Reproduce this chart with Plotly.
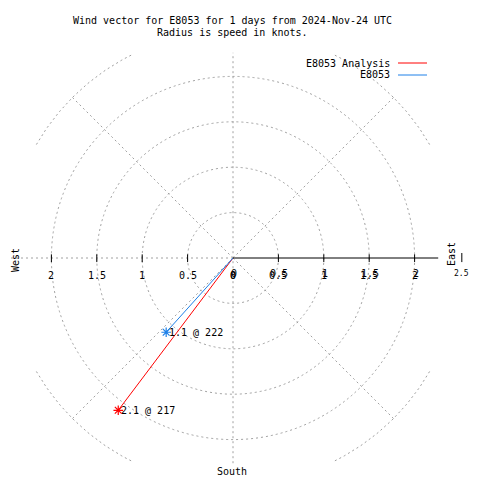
import numpy as np
import plotly.graph_objects as go

# ---- data ----
title_lines = ["Wind vector for E8053 for 1 days from 2024-Nov-24 UTC",
               "Radius is speed in knots."]
series_names = ["E8053 Analysis", "E8053"]
speeds = [2.1, 1.1]          # knots
directions = [217, 222]      # degrees (compass)
series_colors = ["#ff0000", "#1e80e8"]
rtick_vals = [0, 0.5, 1, 1.5, 2]
rtick_labels = ["0", "0.5", "1", "1.5", "2"]
grid_radii = [0.5, 1, 1.5, 2]
outer_radius = 2.5
spoke_angles = [45, 135, 225, 315]
axis_len = 2.26

# ---- geometry (pixel calibration) ----
OFF = 8            # page body margin of the browser
PX = 90.8          # pixels per knot
CX, CY = 233 - OFF, 258 - OFF  # centre in figure pixels
W = H = 480 - OFF
xr = [-CX / PX, (W - CX) / PX]
yr = [-(H - CY) / PX, CY / PX]

GRID = "#a0a0a0"
DASH = "2px,3px"
FONT = "DejaVu Sans Mono"


def px(x, y):
    """page pixel -> paper fraction"""
    return (x - OFF) / W, 1 - (y - OFF) / H


fig = go.Figure()
shapes = []
annots = []

# grid circles
for r in grid_radii:
    shapes.append(dict(type="circle", xref="x", yref="y", x0=-r, y0=-r, x1=r, y1=r,
                       line=dict(color=GRID, width=1, dash=DASH), layer="below"))
# outer partial arcs
for q in [(1, 1), (-1, 1), (-1, -1), (1, -1)]:
    t = np.radians(np.linspace(30, 64, 40))
    fig.add_trace(go.Scatter(x=q[0] * outer_radius * np.cos(t), y=q[1] * outer_radius * np.sin(t),
                             mode="lines", line=dict(color=GRID, width=1, dash=DASH),
                             hoverinfo="skip", showlegend=False))
# spokes
for a in spoke_angles:
    th = np.radians(a)
    shapes.append(dict(type="line", xref="x", yref="y", x0=0, y0=0,
                       x1=outer_radius * np.sin(th), y1=outer_radius * np.cos(th),
                       line=dict(color=GRID, width=1, dash=DASH), layer="below"))
# horizontal (west) and vertical grid lines
shapes.append(dict(type="line", xref="x", yref="y", x0=-outer_radius, y0=0, x1=0, y1=0,
                   line=dict(color=GRID, width=1, dash=DASH), layer="below"))
shapes.append(dict(type="line", xref="x", yref="y", x0=0, y0=-axis_len, x1=0, y1=axis_len,
                   line=dict(color=GRID, width=1, dash=DASH), layer="below"))
# solid radial axis to the east
shapes.append(dict(type="line", xref="x", yref="y", x0=0, y0=0, x1=axis_len, y1=0,
                   line=dict(color="black", width=1), layer="below"))
# tick marks
for v in rtick_vals[1:]:
    for s in (-1, 1):
        shapes.append(dict(type="line", xref="x", yref="y", x0=s * v, x1=s * v,
                           y0=-0.045, y1=0.04, line=dict(color="black", width=1)))
shapes.append(dict(type="line", xref="x", yref="y", x0=2.52, x1=2.52,
                   y0=-0.045, y1=0.055, line=dict(color="black", width=1)))

tf = dict(family=FONT, size=10, color="black")
C = dict(xanchor="center", yanchor="middle", showarrow=False, font=tf)
# tick labels (west side once, east side drawn twice, slightly offset)
for v, lab in zip(rtick_vals, rtick_labels):
    annots.append(dict(x=-v, y=0, xref="x", yref="y", text=lab, yshift=-17, **C))
    annots.append(dict(x=v, y=0, xref="x", yref="y", text=lab, yshift=-17, **C))
    annots.append(dict(x=v, y=0, xref="x", yref="y", text=lab, yshift=-15, xshift=1, **C))

# "2.5" end label, kept inside the visible page area
fx, fy = px(471, 273)
annots.append(dict(x=fx, y=fy, xref="paper", yref="paper", text="2.5",
                   xanchor="right", yanchor="middle", showarrow=False,
                   font=dict(family=FONT, size=8, color="black")))

# direction labels
for (xp, yp), txt, ang in [((451, 254), "East", -90), ((15, 260), "West", -90),
                           ((232, 471), "South", 0)]:
    fx, fy = px(xp, yp)
    annots.append(dict(x=fx, y=fy, xref="paper", yref="paper", text=txt, textangle=ang, **C))

# title
for i, line in enumerate(title_lines):
    fx, fy = px(232, 20 + 13 * i)
    annots.append(dict(x=fx, y=fy, xref="paper", yref="paper", text=line, **C))

# data vectors
for name, spd, d, col in zip(series_names, speeds, directions, series_colors):
    th = np.radians(d)
    x = spd * np.sin(th)
    y = spd * np.cos(th)
    fig.add_trace(go.Scatter(x=[0, x], y=[0, y], mode="lines", name=name,
                             line=dict(color=col, width=1), showlegend=False))
    fig.add_trace(go.Scatter(x=[x], y=[y], mode="markers", showlegend=False,
                             marker=dict(symbol="asterisk-open", size=8, color=col,
                                         line=dict(color=col, width=1.2))))
    annots.append(dict(x=x, y=y, xref="x", yref="y", text=f"{spd} @ {d}", showarrow=False,
                       font=tf, xanchor="left", yanchor="middle", xshift=1))

# legend (manual)
for i, (name, col) in enumerate(zip(series_names, series_colors)):
    ypx = 63 + 12 * i
    fx, fy = px(392, ypx)
    annots.append(dict(x=fx, y=fy, xref="paper", yref="paper", text=name,
                       showarrow=False, font=tf, xanchor="right", yanchor="middle"))
    x0, _ = px(398, ypx)
    x1, _ = px(427, ypx)
    shapes.append(dict(type="line", xref="paper", yref="paper", x0=x0, x1=x1,
                       y0=fy, y1=fy, line=dict(color=col, width=1)))

fig.update_layout(
    width=W, height=H, margin=dict(l=0, r=0, t=0, b=0),
    paper_bgcolor="white", plot_bgcolor="white",
    xaxis=dict(range=xr, visible=False, fixedrange=True),
    yaxis=dict(range=yr, visible=False, fixedrange=True),
    shapes=shapes, annotations=annots, showlegend=False,
)
fig.write_html("out.html")
